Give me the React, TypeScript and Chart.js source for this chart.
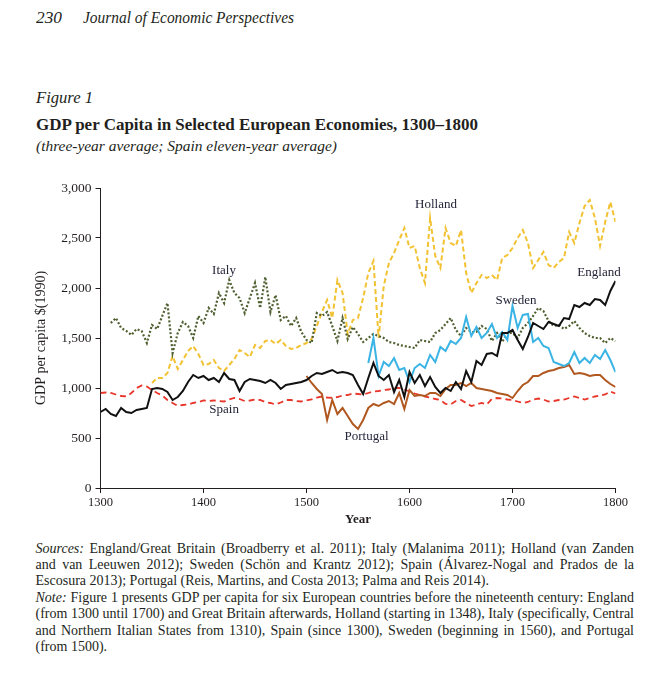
import React, { useEffect, useLayoutEffect, useRef, useState } from "react";
import { Chart, registerables } from "chart.js";

Chart.register(...registerables);

const FONT = "'Liberation Serif', 'Times New Roman', 'DejaVu Serif', serif";
const TEXT_COLOR = "#231f20";

// ---------- data ----------
const years = [
  1300, 1305, 1310, 1315, 1320, 1325, 1330, 1335, 1340, 1345,
  1350, 1355, 1360, 1365, 1370, 1375, 1380, 1385, 1390, 1395,
  1400, 1405, 1410, 1415, 1420, 1425, 1430, 1435, 1440, 1445,
  1450, 1455, 1460, 1465, 1470, 1475, 1480, 1485, 1490, 1495,
  1500, 1505, 1510, 1515, 1520, 1525, 1530, 1535, 1540, 1545,
  1550, 1555, 1560, 1565, 1570, 1575, 1580, 1585, 1590, 1595,
  1600, 1605, 1610, 1615, 1620, 1625, 1630, 1635, 1640, 1645,
  1650, 1655, 1660, 1665, 1670, 1675, 1680, 1685, 1690, 1695,
  1700, 1705, 1710, 1715, 1720, 1725, 1730, 1735, 1740, 1745,
  1750, 1755, 1760, 1765, 1770, 1775, 1780, 1785, 1790, 1795,
  1800,
];

const england = [
  760, 790, 740, 720, 800, 760, 750, 780, 790, 800,
  990, 1000, 990, 960, 880, 910, 970, 1060, 1130, 1100,
  1120, 1080, 1100, 1060, 1150, 1090, 1080, 970, 1060, 1090,
  1080, 1070, 1050, 1080, 1050, 990, 1030, 1040, 1050, 1060,
  1080, 1120, 1150, 1140, 1160, 1180, 1150, 1160, 1150, 1130,
  1030, 940, 1100, 1250, 1120, 1080, 1130, 960, 1080, 910,
  1160, 1050, 1130, 1020, 1110, 1010, 950, 1000, 970, 1060,
  990, 1170, 1060, 1270, 1230, 1340, 1350, 1320, 1550, 1550,
  1580, 1480, 1390, 1510, 1650, 1620, 1590, 1660, 1640, 1620,
  1700, 1690, 1830, 1810, 1850, 1830, 1890, 1880, 1830, 1970,
  2070,
];

const italy = [
  null, null, 1650, 1700, 1600, 1570, 1530, 1590, 1570, 1450,
  1630, 1590, 1720, 1850, 1350, 1550, 1660, 1620, 1500, 1720,
  1650, 1800, 1740, 1950, 1850, 2080, 1950, 1900, 1750, 1900,
  2050, 1800, 2110, 1760, 1930, 1680, 1720, 1620, 1700, 1560,
  1480, 1450, 1750, 1720, 1760, 1620, 1470, 1700, 1490, 1610,
  1540, 1460, 1500, 1540, 1520, 1500, 1460, 1450, 1430, 1420,
  1410, 1400, 1480, 1470, 1460, 1550, 1580, 1640, 1700, 1580,
  1520, 1600, 1560, 1560, 1620, 1590, 1470, 1550, 1460, 1550,
  1550, 1500, 1600, 1650, 1720, 1800, 1770, 1670, 1620, 1630,
  1590, 1620, 1670, 1600, 1550, 1520, 1500, 1500, 1450, 1500,
  1470,
];

const holland = [
  null, null, null, null, null, null, null, null, null, null,
  1050, 1100, 1100, 1150, 1320, 1190, 1280, 1370, 1420, 1340,
  1230, 1240, 1280, 1200, 1170, 1230, 1290, 1380, 1350, 1310,
  1430, 1400, 1470, 1480, 1440, 1480, 1420, 1390, 1400, 1430,
  1450, 1490, 1620, 1760, 1880, 1700, 2080, 1950, 1540, 1680,
  1700, 1900, 2150, 2270, 1500, 2020, 2250, 2350, 2480, 2600,
  2400, 2420, 2200, 2050, 2700, 2320, 2200, 2600, 2450, 2420,
  2580, 2150, 1950, 2050, 2130, 2100, 2130, 2080, 2300, 2330,
  2400, 2500, 2580, 2450, 2200, 2280, 2360, 2230, 2200, 2260,
  2300, 2560, 2450, 2650, 2820, 2880, 2700, 2420, 2660, 2860,
  2660,
];

const sweden = [
  null, null, null, null, null, null, null, null, null, null,
  null, null, null, null, null, null, null, null, null, null,
  null, null, null, null, null, null, null, null, null, null,
  null, null, null, null, null, null, null, null, null, null,
  null, null, null, null, null, null, null, null, null, null,
  null, null, 1250, 1500, 1120, 1260, 1220, 1300, 1180, 1200,
  1060, 1200, 1240, 1200, 1330, 1260, 1410, 1370, 1470, 1440,
  1500, 1710, 1520, 1610, 1500, 1550, 1640, 1500, 1560, 1480,
  1820, 1600, 1730, 1740, 1460, 1500, 1420, 1400, 1260, 1240,
  1220, 1250, 1360, 1250, 1300, 1250, 1330, 1290, 1380, 1280,
  1160,
];

const portugal = [
  null, null, null, null, null, null, null, null, null, null,
  null, null, null, null, null, null, null, null, null, null,
  null, null, null, null, null, null, null, null, null, null,
  null, null, null, null, null, null, null, null, null, null,
  1120, 1050, 990, 940, 680, 880, 740, 800, 720, 640,
  590, 680, 800, 840, 820, 850, 870, 840, 950, 790,
  980, 920, 930, 920, 950, 950, 920, 990, 1030, 1030,
  1050, 1020, 1050, 1000, 990, 980, 970, 950, 940, 930,
  900, 970, 1030, 1060, 1120, 1120, 1150, 1170, 1180, 1200,
  1210, 1230, 1140, 1150, 1140, 1120, 1130, 1130, 1080, 1040,
  1010,
];

const spain = [
  950, 955, 950, 935, 920, 915, 950, 1000, 1025, 1015,
  980, 950, 925, 880, 850, 820, 830, 835, 850, 860,
  875, 870, 875, 870, 865, 885, 900, 890, 870, 875,
  885, 880, 860, 850, 835, 855, 880, 880, 870, 865,
  875, 885, 905, 915, 905, 900, 910, 925, 930, 945,
  940, 935, 950, 965, 970, 980, 985, 1000, 1000, 985,
  965, 945, 930, 915, 905, 890, 880, 840, 835, 870,
  880, 850, 820, 835, 850, 835, 890, 900, 895, 885,
  880, 865, 850, 860, 885, 895, 885, 865, 870, 880,
  885, 900, 915, 900, 885, 900, 915, 925, 935, 965,
  945,
];

const yTicks = [0, 500, 1000, 1500, 2000, 2500, 3000];
const xTicks = [1300, 1400, 1500, 1600, 1700, 1800];

const labelTexts = ["Holland", "Italy", "England", "Sweden", "Spain", "Portugal"];
const labelYears = [1625.7, 1419.9, 1784, 1703.4, 1420, 1558.3];
const labelValues = [2833, 2178, 2153, 1873, 788, 518];

// ---------- text helper ----------
type FitProps = {
  left: number;
  baseline: number;
  width?: number;
  size: number;
  bold?: boolean;
  italic?: boolean;
  justify?: boolean;
  children: React.ReactNode;
};

function FitText(props: FitProps) {
  const ref = useRef<HTMLDivElement>(null);
  const fitRef = useRef({ sx: 1, ws: 0 });
  const [fit, setFit] = useState({ sx: 1, ws: 0 });

  useLayoutEffect(() => {
    if (!props.width) return;
    const target = props.width;
    const measure = () => {
      const el = ref.current;
      if (!el) return;
      const spaces = (el.textContent || "").split(" ").length - 1;
      const cur = fitRef.current;
      const natural = el.getBoundingClientRect().width / cur.sx - cur.ws * spaces;
      let next;
      if (props.justify && natural < target && spaces > 0) {
        next = { sx: 1, ws: (target - natural) / spaces };
      } else {
        next = { sx: target / natural, ws: 0 };
      }
      fitRef.current = next;
      setFit(next);
    };
    measure();
    if ((document as any).fonts && (document as any).fonts.ready) {
      (document as any).fonts.ready.then(measure);
    }
  }, []);

  return (
    <div
      ref={ref}
      style={{
        position: "absolute",
        left: props.left,
        top: props.baseline - 0.8375 * props.size,
        whiteSpace: "nowrap",
        fontFamily: FONT,
        fontSize: props.size,
        lineHeight: `${props.size}px`,
        fontWeight: props.bold ? 700 : 400,
        fontStyle: props.italic ? "italic" : "normal",
        color: TEXT_COLOR,
        transform: `scaleX(${fit.sx})`,
        transformOrigin: "left top",
        wordSpacing: `${fit.ws}px`,
      }}
    >
      {props.children}
    </div>
  );
}

// ---------- chart ----------
function GdpChart() {
  const canvasRef = useRef<HTMLCanvasElement>(null);

  useEffect(() => {
    const canvas = canvasRef.current;
    if (!canvas) return;
    const pts = (vals: (number | null)[]) => years.map((x, i) => ({ x, y: vals[i] }));

    const labelPlugin = {
      id: "seriesLabels",
      afterDatasetsDraw(chart: any) {
        const { ctx, scales } = chart;
        ctx.save();
        ctx.font = `13px ${FONT}`;
        ctx.fillStyle = "#25253a";
        ctx.textAlign = "center";
        ctx.textBaseline = "middle";
        labelTexts.forEach((t, i) => {
          ctx.fillText(
            t,
            scales.x.getPixelForValue(labelYears[i]),
            scales.y.getPixelForValue(labelValues[i])
          );
        });
        ctx.restore();
      },
    };

    const chart = new Chart(canvas, {
      type: "line",
      data: {
        datasets: [
          { label: "England", data: pts(england), borderColor: "#111111", borderWidth: 2 },
          { label: "Sweden", data: pts(sweden), borderColor: "#3ab4e4", borderWidth: 2 },
          { label: "Portugal", data: pts(portugal), borderColor: "#b0581f", borderWidth: 2 },
          { label: "Spain", data: pts(spain), borderColor: "#e8362b", borderWidth: 1.8, borderDash: [6, 4] },
          { label: "Italy", data: pts(italy), borderColor: "#4f5f30", borderWidth: 2.2, borderDash: [2, 2] },
          { label: "Holland", data: pts(holland), borderColor: "#f2c232", borderWidth: 2, borderDash: [5, 3] },
        ] as any,
      },
      options: {
        animation: false,
        responsive: false,
        maintainAspectRatio: false,
        layout: { padding: { left: 32.6, right: 49.5, top: 18, bottom: 12.7 } },
        plugins: { legend: { display: false }, tooltip: { enabled: false } },
        elements: { point: { radius: 0 }, line: { tension: 0, fill: false } },
        scales: {
          x: {
            type: "linear",
            min: xTicks[0],
            max: xTicks[xTicks.length - 1],
            afterBuildTicks: (s: any) => {
              s.ticks = xTicks.map((v) => ({ value: v }));
            },
            ticks: {
              callback: (v: any) => String(v),
              font: { family: FONT, size: 12.5 },
              color: TEXT_COLOR,
              padding: 2,
              maxRotation: 0,
            },
            grid: { drawOnChartArea: false, drawTicks: true, tickLength: 5, color: TEXT_COLOR, lineWidth: 1 },
            border: { display: true, color: TEXT_COLOR, width: 1 },
            title: {
              display: true,
              text: "Year",
              font: { family: FONT, size: 13, weight: "bold" },
              color: TEXT_COLOR,
              padding: 0,
            },
            afterFit: (s: any) => {
              s.height = 39.3;
            },
          },
          y: {
            min: yTicks[0],
            max: yTicks[yTicks.length - 1],
            afterBuildTicks: (s: any) => {
              s.ticks = yTicks.map((v) => ({ value: v }));
            },
            ticks: {
              callback: (v: any) => Number(v).toLocaleString("en-US"),
              font: { family: FONT, size: 13.5 },
              color: TEXT_COLOR,
              padding: 4,
            },
            grid: { drawOnChartArea: false, drawTicks: true, tickLength: 5, color: TEXT_COLOR, lineWidth: 1 },
            border: { display: true, color: TEXT_COLOR, width: 1 },
            title: {
              display: true,
              text: "GDP per capita $(1990)",
              font: { family: FONT, size: 14 },
              color: TEXT_COLOR,
              padding: 0,
            },
            afterFit: (s: any) => {
              s.width = 67.9;
            },
          },
        },
      } as any,
      plugins: [labelPlugin],
    });

    return () => chart.destroy();
  }, []);

  return (
    <canvas
      ref={canvasRef}
      width={665}
      height={370}
      style={{ position: "absolute", left: 0, top: 170, width: 665, height: 370 }}
    />
  );
}

export default function App() {
  const left = 35.5;
  const lineW = 598.5;
  const noteBase = 553.3;
  const step = 16.4;
  return (
    <div style={{ position: "absolute", left: 0, top: 0, width: 665, height: 686, background: "#ffffff", overflow: "hidden" }}>
      <FitText left={36} baseline={23} width={26} size={16} italic>230</FitText>
      <FitText left={83} baseline={23} width={211} size={16} italic>Journal of Economic Perspectives</FitText>

      <FitText left={36} baseline={103.5} width={57} size={16} italic>Figure 1</FitText>
      <FitText left={36} baseline={130.5} width={442} size={16} bold>
        GDP per Capita in Selected European Economies, 1300–1800
      </FitText>
      <FitText left={36} baseline={151.5} width={301} size={15} italic>
        (three-year average; Spain eleven-year average)
      </FitText>

      <GdpChart />

      <FitText left={left} baseline={noteBase} width={lineW} size={14} justify>
        <i>Sources:</i> England/Great Britain (Broadberry et al. 2011); Italy (Malanima 2011); Holland (van Zanden
      </FitText>
      <FitText left={left} baseline={noteBase + step} width={lineW} size={14} justify>
        and van Leeuwen 2012); Sweden (Schön and Krantz 2012); Spain (Álvarez-Nogal and Prados de la
      </FitText>
      <FitText left={left} baseline={noteBase + step * 2} size={14}>
        Escosura 2013); Portugal (Reis, Martins, and Costa 2013; Palma and Reis 2014).
      </FitText>
      <FitText left={left} baseline={noteBase + step * 3} width={lineW} size={14} justify>
        <i>Note:</i> Figure 1 presents GDP per capita for six European countries before the nineteenth century: England
      </FitText>
      <FitText left={left} baseline={noteBase + step * 4} width={lineW} size={14} justify>
        (from 1300 until 1700) and Great Britain afterwards, Holland (starting in 1348), Italy (specifically, Central
      </FitText>
      <FitText left={left} baseline={noteBase + step * 5} width={lineW} size={14} justify>
        and Northern Italian States from 1310), Spain (since 1300), Sweden (beginning in 1560), and Portugal
      </FitText>
      <FitText left={left} baseline={noteBase + step * 6} size={14}>
        (from 1500).
      </FitText>
    </div>
  );
}
